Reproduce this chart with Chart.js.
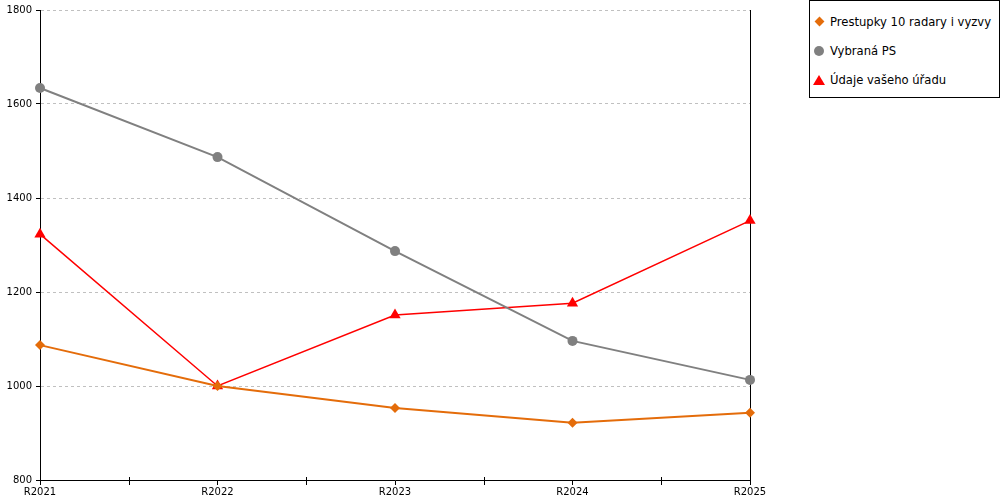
<!DOCTYPE html>
<html>
<head>
<meta charset="utf-8">
<script src="https://cdn.jsdelivr.net/npm/chart.js@4/dist/chart.umd.min.js"></script>
<style>
  html, body { margin: 0; padding: 0; background: #fff; }
  #wrap { position: relative; width: 1000px; height: 500px; }
  #legend {
    position: absolute; left: 809px; top: 0px; width: 191px; height: 98px;
    box-sizing: border-box; border: 1px solid #000; background: #fff;
    font-family: "DejaVu Sans", sans-serif; font-size: 11.6px; color: #000;
  }
  .item { position: absolute; left: 0; height: 16px; line-height: 16px; white-space: nowrap; }
  .item span.txt { position: absolute; left: 20px; top: 0; }
  .mk { position: absolute; }
  .diamond { width: 7px; height: 7px; left: 6px; top: 4px; transform: rotate(45deg); }
  .circle { width: 10px; height: 10px; left: 4px; top: 3px; border-radius: 50%; }
  .triangle { width: 0; height: 0; left: 3px; top: 3px; border-left: 6px solid transparent; border-right: 6px solid transparent; border-bottom: 10px solid #f00; }
</style>
</head>
<body>
<div id="wrap">
  <canvas id="chart-area" width="1000" height="500"></canvas>
  <div id="legend"></div>
</div>
<script>
var years = ['R2021', 'R2022', 'R2023', 'R2024', 'R2025'];
var seriesNames = ['Prestupky 10 radary i vyzvy', 'Vybraná PS', 'Údaje vašeho úřadu'];
var prestupky = [1087, 1000, 953, 922, 943];
var vybranaPS = [1634, 1487, 1287, 1096, 1013];
var udajeUradu = [1323, 1000, 1151, 1176, 1352];
var yTicks = [800, 1000, 1200, 1400, 1600, 1800];

var colors = ['#e46c0a', '#808080', '#ff0000'];
var shapes = ['diamond', 'circle', 'triangle'];

// ticks between the categories on the x axis
var midTicks = {
	id: 'midTicks',
	afterDraw: function (chart) {
		var xs = chart.scales.x;
		var ctx = chart.ctx;
		var y = xs.top;
		ctx.save();
		ctx.strokeStyle = '#000';
		ctx.lineWidth = 1;
		for (var i = 0; i < years.length - 1; i++) {
			var x = Math.round((xs.getPixelForTick(i) + xs.getPixelForTick(i + 1)) / 2) + 0.5;
			ctx.beginPath();
			ctx.moveTo(x, y - 3);
			ctx.lineTo(x, y + 5);
			ctx.stroke();
		}
		ctx.restore();
	}
};

var config = {
	type: 'line',
	data: {
		labels: years,
		datasets: [{
			label: seriesNames[0],
			data: prestupky,
			borderColor: colors[0],
			backgroundColor: colors[0],
			borderWidth: 2,
			pointStyle: 'rectRot',
			pointRadius: 5,
			pointBorderWidth: 0,
			tension: 0
		}, {
			label: seriesNames[1],
			data: vybranaPS,
			borderColor: colors[1],
			backgroundColor: colors[1],
			borderWidth: 2,
			pointStyle: 'circle',
			pointRadius: 5,
			pointBorderWidth: 0,
			tension: 0
		}, {
			label: seriesNames[2],
			data: udajeUradu,
			borderColor: colors[2],
			backgroundColor: colors[2],
			borderWidth: 1.5,
			pointStyle: 'triangle',
			pointRadius: 6.5,
			pointBorderWidth: 0,
			tension: 0
		}]
	},
	options: {
		responsive: false,
		animation: false,
		layout: { padding: { top: 10, right: 250, left: 0, bottom: 0 } },
		plugins: {
			legend: { display: false },
			tooltip: { enabled: false }
		},
		scales: {
			x: {
				offset: false,
				grid: { drawOnChartArea: false, drawTicks: true, tickLength: 5, tickColor: '#000' },
				border: { color: '#000', width: 1 },
				ticks: {
					color: '#000', padding: 1, maxRotation: 0, autoSkip: false,
					font: { family: 'DejaVu Sans', size: 10 }
				},
				afterFit: function (s) { s.height = 20; }
			},
			y: {
				min: 800, max: 1800,
				afterBuildTicks: function (s) { s.ticks = yTicks.map(function (v) { return { value: v }; }); },
				grid: { color: '#c0c0c0', tickColor: '#000', tickLength: 4, lineWidth: 1 },
				border: { color: '#000', width: 1, dash: [3, 3] },
				ticks: {
					color: '#000', padding: 4,
					font: { family: 'DejaVu Sans', size: 10 },
					callback: function (v) { return String(v); }
				},
				afterFit: function (s) { s.width = 40; }
			},
			yRight: {
				position: 'right',
				min: 800, max: 1800,
				grid: { display: false, drawOnChartArea: false },
				border: { color: '#000', width: 1 },
				ticks: { display: false },
				afterFit: function (s) { s.width = 0; }
			}
		}
	},
	plugins: [midTicks]
};

// html legend
var legendEl = document.getElementById('legend');
var rowTops = [13, 42, 71];
for (var i = 0; i < seriesNames.length; i++) {
	var row = document.createElement('div');
	row.className = 'item';
	row.style.top = rowTops[i] + 'px';
	var mk = document.createElement('div');
	mk.className = 'mk ' + shapes[i];
	if (shapes[i] !== 'triangle') mk.style.background = colors[i];
	var txt = document.createElement('span');
	txt.className = 'txt';
	txt.textContent = seriesNames[i];
	row.appendChild(mk);
	row.appendChild(txt);
	legendEl.appendChild(row);
}

window.onload = function () {
	var ctx = document.getElementById('chart-area').getContext('2d');
	window.myLine = new Chart(ctx, config);
};
</script>
</body>
</html>
